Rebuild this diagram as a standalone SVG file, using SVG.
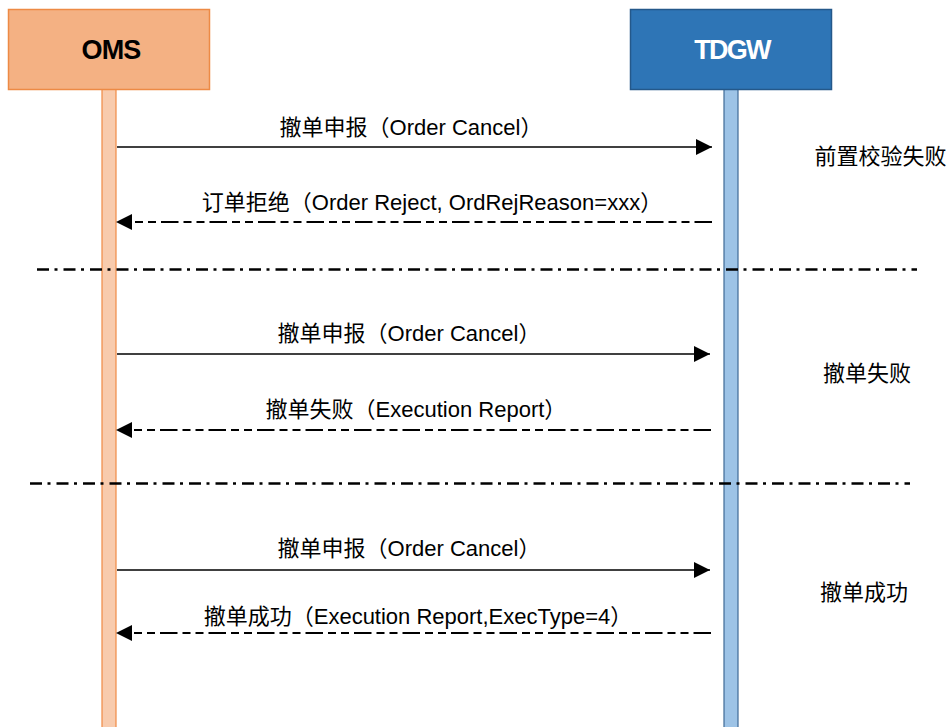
<svg xmlns="http://www.w3.org/2000/svg" width="951" height="727" viewBox="0 0 951 727">
<style>
.lbl{font-family:"Liberation Sans","Noto Sans CJK SC",sans-serif;font-size:22px;fill:#000;text-anchor:middle}
.side{font-family:"Noto Sans CJK SC","Liberation Sans",sans-serif;font-size:22px;fill:#000;text-anchor:middle}
.head{font-family:"Liberation Sans",Arial,sans-serif;font-size:27px;font-weight:bold;text-anchor:middle}
.solid{stroke:#000;stroke-width:1.4;fill:none}
.dash{stroke:#000;stroke-width:2.2;fill:none;stroke-dasharray:17.5 5 8 5 8 5}
.sep{stroke:#000;stroke-width:2.4;fill:none;stroke-dasharray:12 5.5 3 6}
</style>
<defs>
<marker id="ah" viewBox="0 0 16 16" refX="16" refY="8" markerWidth="16" markerHeight="16" markerUnits="userSpaceOnUse" orient="auto">
<path d="M0,0 L16,8 L0,16 Z" fill="#000"/>
</marker>
</defs>
<rect width="951" height="727" fill="#fff"/>
<g id="oms">
<rect x="102" y="89" width="14" height="645" fill="#F8CBAD" stroke="#F08A45" stroke-width="1.2"/>
<rect x="8.5" y="9.5" width="201" height="80" fill="#F4B183" stroke="#ED8A45" stroke-width="1.5"/>
<text class="head" x="111" y="59" fill="#000" letter-spacing="-0.8">OMS</text>
</g>
<g id="tdgw">
<rect x="724" y="89" width="14" height="645" fill="#9DC3E6" stroke="#3E6A96" stroke-width="1.2"/>
<rect x="630.5" y="9.5" width="201" height="80" fill="#2E75B6" stroke="#24588A" stroke-width="1.5"/>
<text class="head" x="732" y="59" fill="#fff" letter-spacing="-1.8">TDGW</text>
</g>
<g id="separators">
<path class="sep" d="M37 269.5 H917"/>
<path class="sep" d="M30 483.5 H910"/>
</g>
<g id="connectors">
<path class="solid" d="M117 147 H712" marker-end="url(#ah)"/>
<path class="dash" d="M712 222 H130"/>
<path d="M132 214 L116 222 L132 230 Z" fill="#000"/>
<path class="solid" d="M117 354 H710" marker-end="url(#ah)"/>
<path class="dash" d="M711 430 H130"/>
<path d="M132 422 L116 430 L132 438 Z" fill="#000"/>
<path class="solid" d="M117 570 H710" marker-end="url(#ah)"/>
<path class="dash" d="M711 633 H130"/>
<path d="M132 625 L116 633 L132 641 Z" fill="#000"/>
</g>
<g id="labels">
<text class="lbl" x="411" y="135">撤单申报（Order Cancel）</text>
<text class="lbl" x="432" y="210">订单拒绝（Order Reject, OrdRejReason=xxx）</text>
<text class="lbl" x="409" y="341">撤单申报（Order Cancel）</text>
<text class="lbl" x="416" y="417">撤单失败（Execution Report）</text>
<text class="lbl" x="409" y="556">撤单申报（Order Cancel）</text>
<text class="lbl" x="418" y="624">撤单成功（Execution Report,ExecType=4）</text>
<text class="side" x="880.5" y="164">前置校验失败</text>
<text class="side" x="867" y="381">撤单失败</text>
<text class="side" x="864" y="600">撤单成功</text>
</g>
</svg>
